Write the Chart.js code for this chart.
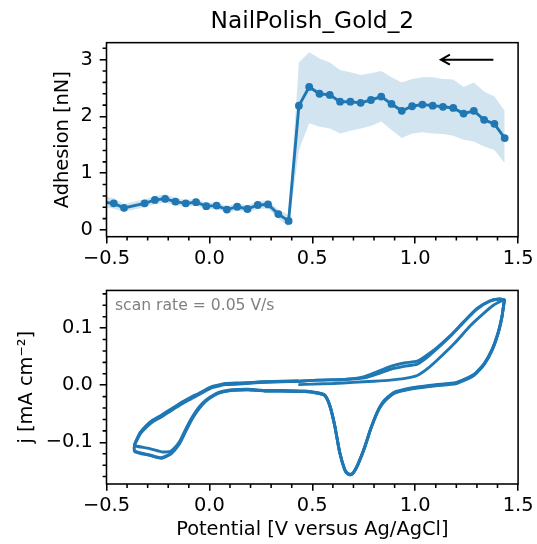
<!DOCTYPE html>
<html>
<head>
<meta charset="utf-8">
<title>NailPolish_Gold_2</title>
<script src="https://cdn.jsdelivr.net/npm/chart.js@4.4.0/dist/chart.umd.min.js"></script>
<style>
  html, body { margin: 0; padding: 0; background: #fff; }
  #wrap { position: relative; width: 537px; height: 544px; background: #fff; }
  #wrap canvas { position: absolute; left: 0; }
  #adhesion { top: 0; }
  #cv { top: 272px; }
</style>
</head>
<body>
<div id="wrap">
  <canvas id="adhesion" width="537" height="272"></canvas>
  <canvas id="cv" width="537" height="272"></canvas>
</div>
<script>
// ---- top panel: adhesion vs potential ----
var potential = [-0.515, -0.465, -0.415, -0.315, -0.265, -0.215, -0.165, -0.115, -0.065, -0.015,
  0.035, 0.085, 0.135, 0.185, 0.235, 0.285, 0.335, 0.385, 0.435, 0.485, 0.535, 0.585, 0.635,
  0.685, 0.735, 0.785, 0.835, 0.885, 0.935, 0.985, 1.035, 1.085, 1.135, 1.185, 1.235, 1.285,
  1.335, 1.385, 1.435];
var adhesion = [0.49, 0.47, 0.39, 0.47, 0.53, 0.55, 0.50, 0.47, 0.49, 0.42, 0.43, 0.36, 0.41,
  0.37, 0.44, 0.45, 0.28, 0.16, 2.19, 2.52, 2.40, 2.38, 2.26, 2.26, 2.24, 2.29, 2.35, 2.22,
  2.10, 2.18, 2.21, 2.19, 2.17, 2.15, 2.05, 2.10, 1.94, 1.87, 1.62];
var adhesionHigh = [0.60, 0.56, 0.46, 0.54, 0.60, 0.63, 0.57, 0.53, 0.55, 0.48, 0.49, 0.42, 0.47,
  0.43, 0.51, 0.52, 0.36, 0.26, 2.95, 3.13, 3.02, 2.95, 2.82, 2.78, 2.73, 2.76, 2.80, 2.69,
  2.60, 2.66, 2.69, 2.69, 2.66, 2.65, 2.52, 2.60, 2.44, 2.35, 2.10];
var adhesionLow = [0.40, 0.38, 0.32, 0.40, 0.46, 0.48, 0.43, 0.41, 0.43, 0.36, 0.37, 0.30, 0.35,
  0.31, 0.37, 0.38, 0.20, 0.06, 1.41, 1.88, 1.82, 1.79, 1.70, 1.75, 1.79, 1.83, 1.91, 1.76,
  1.62, 1.70, 1.72, 1.70, 1.69, 1.66, 1.59, 1.56, 1.47, 1.41, 1.18];
var scanArrow = [[1.38, 3.0], [1.125, 3.0]];   // tail, head

// ---- bottom panel: cyclic voltammogram, three cycles ----
var cycle1E = [0.432, 0.50, 0.60, 0.70, 0.80, 0.88, 0.95, 1.01, 1.06, 1.11, 1.19, 1.27, 1.33, 1.38, 1.415, 1.433,
  1.430, 1.422, 1.405, 1.375, 1.335, 1.285, 1.20, 1.10, 1.01, 0.95, 0.90, 0.866, 0.840, 0.817, 0.785,
  0.753, 0.721, 0.700, 0.685, 0.670, 0.657, 0.633, 0.609, 0.585, 0.561, 0.528, 0.464, 0.34, 0.27,
  0.19, 0.11, 0.06, 0.031, -0.017, -0.050, -0.082, -0.114, -0.146, -0.186, -0.226, -0.290, -0.363,
  -0.363, -0.352, -0.335, -0.305, -0.275, -0.240, -0.210, -0.170, -0.130, -0.090, -0.050, -0.015,
  0.014, 0.050, 0.079, 0.143, 0.272, 0.432];
var cycle1J = [0.001, 0.002, 0.003, 0.005, 0.007, 0.009, 0.012, 0.017, 0.029, 0.045, 0.073, 0.105, 0.125, 0.140, 0.147, 0.150,
  0.140, 0.120, 0.093, 0.062, 0.036, 0.017, 0.003, -0.001, -0.005, -0.009, -0.014, -0.023, -0.033, -0.047, -0.076,
  -0.111, -0.140, -0.153, -0.157, -0.154, -0.147, -0.117, -0.070, -0.035, -0.017, -0.013, -0.010, -0.009, -0.009,
  -0.007, -0.008, -0.011, -0.015, -0.026, -0.038, -0.055, -0.076, -0.099, -0.115, -0.117, -0.111, -0.106,
  -0.104, -0.096, -0.085, -0.073, -0.064, -0.057, -0.050, -0.041, -0.032, -0.024, -0.016, -0.009,
  -0.004, -0.001, 0.001, 0.002, 0.005, 0.007];

var cycle2E = [0.432, 0.528, 0.657, 0.753, 0.817, 0.881, 0.946, 1.010, 1.058, 1.106, 1.171, 1.235, 1.299, 1.363, 1.411, 1.433,
  1.430, 1.422, 1.405, 1.375, 1.335, 1.285, 1.20, 1.10, 1.01, 0.95, 0.90, 0.866, 0.840, 0.817, 0.785,
  0.753, 0.721, 0.700, 0.685, 0.670, 0.657, 0.633, 0.609, 0.585, 0.561, 0.528, 0.464, 0.34, 0.27,
  0.19, 0.11, 0.06, 0.031, -0.017, -0.050, -0.082, -0.114, -0.146, -0.186, -0.234, -0.290, -0.363,
  -0.363, -0.352, -0.335, -0.305, -0.275, -0.240, -0.210, -0.170, -0.130, -0.090, -0.050, -0.015,
  0.014, 0.050, 0.079, 0.143, 0.272, 0.432];
var cycle2J = [0.007, 0.009, 0.010, 0.015, 0.024, 0.033, 0.039, 0.042, 0.053, 0.066, 0.087, 0.111, 0.134, 0.148, 0.151, 0.149,
  0.141, 0.121, 0.094, 0.063, 0.037, 0.018, 0.004, 0.000, -0.004, -0.008, -0.013, -0.022, -0.032, -0.046, -0.075,
  -0.110, -0.139, -0.153, -0.157, -0.155, -0.148, -0.118, -0.071, -0.036, -0.018, -0.014, -0.011, -0.010, -0.010,
  -0.008, -0.009, -0.012, -0.016, -0.027, -0.040, -0.057, -0.079, -0.102, -0.119, -0.127, -0.122, -0.115,
  -0.104, -0.095, -0.083, -0.071, -0.062, -0.055, -0.048, -0.039, -0.030, -0.022, -0.015, -0.008,
  -0.003, 0.000, 0.002, 0.003, 0.006, 0.007];

var cycle3E = [0.432, 0.528, 0.657, 0.753, 0.817, 0.881, 0.946, 1.010, 1.058, 1.106, 1.171, 1.235, 1.299, 1.363, 1.411, 1.433,
  1.430, 1.422, 1.405, 1.375, 1.335, 1.285, 1.20, 1.10, 1.01, 0.95, 0.90, 0.866, 0.840, 0.817, 0.785,
  0.753, 0.721, 0.700, 0.685, 0.670, 0.657, 0.633, 0.609, 0.585, 0.561, 0.528, 0.464, 0.34, 0.27,
  0.19, 0.11, 0.06, 0.031, -0.017, -0.050, -0.082, -0.114, -0.146, -0.186, -0.234, -0.290, -0.363,
  -0.363, -0.352, -0.335, -0.305, -0.275, -0.240, -0.210, -0.170, -0.130, -0.090, -0.050, -0.015,
  0.014, 0.050, 0.079, 0.143, 0.272, 0.432];
var cycle3J = [0.007, 0.009, 0.010, 0.013, 0.020, 0.028, 0.033, 0.037, 0.049, 0.064, 0.086, 0.110, 0.133, 0.147, 0.151, 0.149,
  0.141, 0.121, 0.095, 0.064, 0.038, 0.019, 0.005, 0.001, -0.003, -0.007, -0.012, -0.021, -0.031, -0.046, -0.075,
  -0.110, -0.139, -0.153, -0.156, -0.154, -0.147, -0.117, -0.071, -0.036, -0.018, -0.014, -0.011, -0.010, -0.010,
  -0.008, -0.009, -0.012, -0.016, -0.028, -0.041, -0.058, -0.080, -0.103, -0.120, -0.128, -0.123, -0.116,
  -0.104, -0.094, -0.082, -0.070, -0.061, -0.054, -0.047, -0.038, -0.029, -0.021, -0.014, -0.007,
  -0.002, 0.001, 0.003, 0.004, 0.006, 0.008];

// ---- ticks ----
var potentialTicks = [-0.5, 0, 0.5, 1, 1.5];
var potentialMinor = [-0.4, -0.3, -0.2, -0.1, 0.1, 0.2, 0.3, 0.4, 0.6, 0.7, 0.8, 0.9, 1.1, 1.2, 1.3, 1.4];
var adhesionTicks = [0, 1, 2, 3];
var adhesionMinor = [0.2, 0.4, 0.6, 0.8, 1.2, 1.4, 1.6, 1.8, 2.2, 2.4, 2.6, 2.8, 3.2];
var currentTicks = [-0.1, 0, 0.1];
var currentMinor = [-0.16, -0.14, -0.12, -0.08, -0.06, -0.04, -0.02, 0.02, 0.04, 0.06, 0.08, 0.12, 0.14, 0.16];

var blue = '#1f77b4';
Chart.defaults.font.family = '"DejaVu Sans"';
Chart.defaults.font.size = 19.4;
Chart.defaults.color = '#000';

function pts(xs, ys) {
  return xs.map(function (x, i) { return { x: x, y: ys[i] }; });
}
function minus(s) { return s.replace('-', '\u2212'); }
function fixedTicks(values) {
  return function (scale) { scale.ticks = values.map(function (v) { return { value: v }; }); };
}

var tickGrid = { drawOnChartArea: false, drawTicks: true, tickLength: 6.8, tickWidth: 1.56,
  tickColor: '#000', color: '#000', lineWidth: 1.56 };

// full box round the axes + minor ticks
var frame = {
  id: 'frame',
  afterDraw: function (chart, args, opts) {
    var ctx = chart.ctx, a = chart.chartArea;
    var sx = chart.scales.x, sy = chart.scales.y;
    ctx.save();
    ctx.strokeStyle = '#000';
    ctx.lineWidth = 1.56;
    ctx.beginPath();
    opts.xMinor.forEach(function (v) {
      var px = sx.getPixelForValue(v);
      ctx.moveTo(px, a.bottom);
      ctx.lineTo(px, a.bottom + 3.9);
    });
    opts.yMinor.forEach(function (v) {
      var py = sy.getPixelForValue(v);
      ctx.moveTo(a.left, py);
      ctx.lineTo(a.left - 3.9, py);
    });
    ctx.stroke();
    ctx.strokeRect(a.left, a.top, a.right - a.left, a.bottom - a.top);
    ctx.restore();
  }
};

var arrow = {
  id: 'scanArrow',
  afterDatasetsDraw: function (chart, args, opts) {
    var ctx = chart.ctx, sx = chart.scales.x, sy = chart.scales.y;
    var x0 = sx.getPixelForValue(opts.from[0]), y0 = sy.getPixelForValue(opts.from[1]);
    var x1 = sx.getPixelForValue(opts.to[0]), y1 = sy.getPixelForValue(opts.to[1]);
    var ang = Math.atan2(y1 - y0, x1 - x0);
    ctx.save();
    ctx.strokeStyle = '#000';
    ctx.lineWidth = 2;
    ctx.beginPath();
    ctx.moveTo(x0, y0);
    ctx.lineTo(x1, y1);
    ctx.moveTo(x1 - 9 * Math.cos(ang) + 5 * Math.sin(ang), y1 - 9 * Math.sin(ang) - 5 * Math.cos(ang));
    ctx.lineTo(x1, y1);
    ctx.lineTo(x1 - 9 * Math.cos(ang) - 5 * Math.sin(ang), y1 - 9 * Math.sin(ang) + 5 * Math.cos(ang));
    ctx.stroke();
    ctx.restore();
  }
};

var note = {
  id: 'note',
  afterDraw: function (chart, args, opts) {
    var ctx = chart.ctx, a = chart.chartArea;
    ctx.save();
    ctx.font = '15.6px "DejaVu Sans"';
    ctx.fillStyle = '#808080';
    ctx.textBaseline = 'alphabetic';
    ctx.textAlign = 'left';
    ctx.fillText(opts.text, a.left + 8.5, a.top + 20);
    ctx.restore();
  }
};

new Chart(document.getElementById('adhesion'), {
  type: 'line',
  data: {
    datasets: [{
      data: pts(potential, adhesion),
      borderColor: blue,
      backgroundColor: blue,
      borderWidth: 2.9,
      pointRadius: 3.9,
      pointHoverRadius: 3.9,
      pointBorderWidth: 0,
      tension: 0,
      fill: false,
      clip: 0
    }, {
      data: pts(potential, adhesionLow),
      borderColor: 'rgba(0,0,0,0)',
      borderWidth: 0,
      pointRadius: 0,
      fill: false,
      clip: 0
    }, {
      data: pts(potential, adhesionHigh),
      borderColor: 'rgba(0,0,0,0)',
      backgroundColor: 'rgba(31,119,180,0.2)',
      borderWidth: 0,
      pointRadius: 0,
      fill: '-1',
      clip: 0
    }]
  },
  options: {
    responsive: false,
    animation: false,
    devicePixelRatio: 1,
    events: [],
    layout: { padding: { top: 0, left: 0, right: 15.3, bottom: 0 } },
    plugins: {
      legend: { display: false },
      tooltip: { enabled: false },
      title: {
        display: true,
        text: 'NailPolish_Gold_2',
        fullSize: false,
        color: '#000',
        font: { size: 23.3, weight: 'normal' },
        padding: { top: 8, bottom: 6.7 }
      },
      frame: { xMinor: potentialMinor, yMinor: adhesionMinor },
      scanArrow: { from: scanArrow[0], to: scanArrow[1] }
    },
    scales: {
      x: {
        type: 'linear',
        min: -0.5,
        max: 1.5,
        afterBuildTicks: fixedTicks(potentialTicks),
        afterFit: function (s) { s.height = 35.3; },
        grid: tickGrid,
        border: { display: false },
        ticks: { padding: 3.5, maxRotation: 0, autoSkip: false,
          callback: function (v) { return minus(v.toFixed(1)); } }
      },
      y: {
        type: 'linear',
        min: -0.118,
        max: 3.30,
        afterBuildTicks: fixedTicks(adhesionTicks),
        afterFit: function (s) { s.width = 106.5; },
        grid: tickGrid,
        border: { display: false },
        ticks: { padding: 6.8, callback: function (v) { return String(v); } },
        title: { display: true, text: 'Adhesion [nN]', padding: { top: 51, bottom: 0 } }
      }
    }
  },
  plugins: [frame, arrow]
});

var cvLine = { borderColor: blue, borderWidth: 2.9, pointRadius: 0, tension: 0.2, fill: false };

new Chart(document.getElementById('cv'), {
  type: 'line',
  data: {
    datasets: [
      Object.assign({ data: pts(cycle1E, cycle1J) }, cvLine),
      Object.assign({ data: pts(cycle2E, cycle2J) }, cvLine),
      Object.assign({ data: pts(cycle3E, cycle3J) }, cvLine)
    ]
  },
  options: {
    responsive: false,
    animation: false,
    devicePixelRatio: 1,
    events: [],
    layout: { padding: { top: 18, left: 0, right: 15.3, bottom: 0 } },
    plugins: {
      legend: { display: false },
      tooltip: { enabled: false },
      frame: { xMinor: potentialMinor, yMinor: currentMinor },
      note: { text: 'scan rate = 0.05 V/s' }
    },
    scales: {
      x: {
        type: 'linear',
        min: -0.5,
        max: 1.5,
        afterBuildTicks: fixedTicks(potentialTicks),
        afterFit: function (s) { s.height = 60; },
        grid: tickGrid,
        border: { display: false },
        ticks: { padding: 3.5, maxRotation: 0, autoSkip: false,
          callback: function (v) { return minus(v.toFixed(1)); } },
        title: { display: true, text: 'Potential [V versus Ag/AgCl]', padding: { top: 0, bottom: 2 } }
      },
      y: {
        type: 'linear',
        min: -0.173,
        max: 0.166,
        afterBuildTicks: fixedTicks(currentTicks),
        afterFit: function (s) { s.width = 106.5; },
        grid: tickGrid,
        border: { display: false },
        ticks: { padding: 6.8, callback: function (v) { return minus(v.toFixed(1)); } },
        title: { display: true, text: 'j [mA cm\u207B\u00B2]', padding: { top: 15, bottom: 0 } }
      }
    }
  },
  plugins: [frame, note]
});
</script>
</body>
</html>
